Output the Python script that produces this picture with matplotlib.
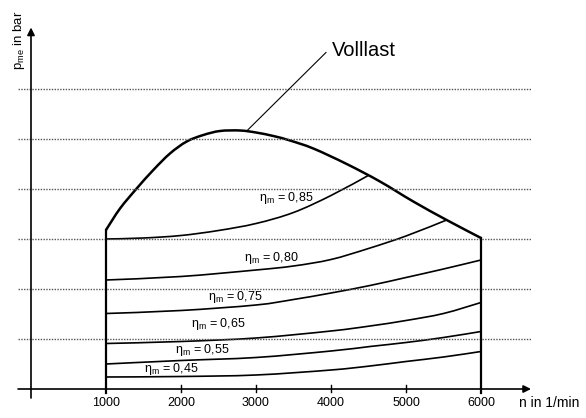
import matplotlib
matplotlib.use('Agg')
import matplotlib.pyplot as plt
from matplotlib.path import Path
from matplotlib.patches import PathPatch

plt.rcParams['font.family'] = ['Liberation Sans', 'DejaVu Sans']
plt.rcParams['mathtext.fontset'] = 'custom'
plt.rcParams['mathtext.rm'] = 'Liberation Sans'
plt.rcParams['mathtext.it'] = 'Liberation Sans'
plt.rcParams['mathtext.default'] = 'regular'

# Volllast (full load) curve, n in 1/min, p_me in grid units
full_n = [1000, 1187, 1409, 1631, 1853, 2076, 2298, 2520, 2787, 3000,
          3231, 3453, 3764, 4209, 4653, 5097, 5542, 6000]
full_p = [3.18, 3.61, 4.01, 4.38, 4.71, 4.95, 5.08, 5.16, 5.17, 5.13,
          5.06, 4.97, 4.81, 4.50, 4.15, 3.75, 3.38, 3.02]

# efficiency lines eta_m
eta_labels = ['0,85', '0,80', '0,75', '0,65', '0,55', '0,45']
eta_n = [
    [1000, 1500, 2000, 2500, 3000, 3500, 4000, 4497],
    [1000, 2000, 3000, 3500, 4000, 4500, 5000, 5542],
    [1000, 2000, 3000, 3500, 4000, 4520, 5000, 5500, 6000],
    [1000, 2000, 3000, 4000, 4520, 5000, 5500, 6000],
    [1000, 2000, 3000, 4000, 4520, 5000, 5500, 6000],
    [1000, 2000, 3000, 4000, 4520, 5000, 5500, 6000],
]
eta_p = [
    [3.00, 3.02, 3.07, 3.17, 3.31, 3.53, 3.87, 4.27],
    [2.18, 2.25, 2.38, 2.46, 2.59, 2.81, 3.06, 3.38],
    [1.51, 1.57, 1.68, 1.79, 1.92, 2.07, 2.23, 2.40, 2.58],
    [0.91, 0.95, 1.02, 1.16, 1.26, 1.37, 1.51, 1.73],
    [0.50, 0.57, 0.63, 0.76, 0.85, 0.93, 1.03, 1.15],
    [0.24, 0.25, 0.28, 0.38, 0.46, 0.55, 0.64, 0.75],
]
# label positions (centre)
lab_n = [3400, 3200, 2720, 2500, 2280, 1867]
lab_p = [3.82, 2.62, 1.84, 1.30, 0.78, 0.40]

ticks = [1000, 2000, 3000, 4000, 5000, 6000]
grid_p = [1, 2, 3, 4, 5, 6]


def smooth_curve(ax, xs, ys, **kw):
    # draw a smooth bezier path through the read points (catmull-rom style)
    pts = [ax.transData.transform((x, y)) for x, y in zip(xs, ys)]
    verts = [pts[0]]
    codes = [Path.MOVETO]
    for i in range(len(pts) - 1):
        p0 = pts[i - 1] if i > 0 else pts[i]
        p1 = pts[i]
        p2 = pts[i + 1]
        p3 = pts[i + 2] if i + 2 < len(pts) else pts[i + 1]
        c1 = p1 + (p2 - p0) / 6.0
        c2 = p2 - (p3 - p1) / 6.0
        verts += [c1, c2, p2]
        codes += [Path.CURVE4] * 3
    inv = ax.transData.inverted()
    verts = [inv.transform(v) for v in verts]
    ax.add_patch(PathPatch(Path(verts, codes), fill=False, **kw))


fig = plt.figure(figsize=(5.86, 4.18), dpi=100)
ax = fig.add_axes([0, 0, 1, 1])
ax.set_xlim(-413.3, 7400)
ax.set_ylim(-0.58, 7.78)
ax.axis('off')

# dotted grid lines
for g in grid_p:
    ax.plot([-173, 6667], [g, g], color='#555555', lw=1.0, ls=(0, (1, 1)))

# axes with arrows
arr = dict(arrowstyle='-|>', mutation_scale=11, lw=1.2, color='black',
           shrinkA=0, shrinkB=0)
ax.annotate('', xy=(6667, 0), xytext=(-173, 0), arrowprops=arr)
ax.annotate('', xy=(0, 7.23), xytext=(0, -0.18), arrowprops=arr)

# ticks
for t in ticks[1:-1]:
    ax.plot([t, t], [-0.06, 0.08], color='black', lw=1.0)
for t in ticks:
    ax.text(t, -0.28, str(t), ha='center', va='center', fontsize=9)

# verticals at 1000 and 6000
ax.plot([1000, 1000], [-0.08, full_p[0]], color='black', lw=1.6)
ax.plot([6000, 6000], [-0.08, full_p[-1]], color='black', lw=1.6)

# full load curve
smooth_curve(ax, full_n, full_p, color='black', lw=1.8, joinstyle='round')

# efficiency curves
for n, p, lab, ln, lp in zip(eta_n, eta_p, eta_labels, lab_n, lab_p):
    smooth_curve(ax, n, p, color='black', lw=1.2)
    ax.text(ln, lp, r'$\eta_m$ = ' + lab, ha='center', va='center', fontsize=9)

# Volllast annotation
ax.plot([2876, 3933], [5.16, 6.73], color='black', lw=0.8)
ax.text(4009, 6.76, 'Volllast', ha='left', va='center', fontsize=14.5)

ax.text(-160, 6.98, r'p$_{me}$ in bar', rotation=90, ha='center', va='center',
        fontsize=9.5)
ax.text(6507, -0.28, 'n in 1/min', ha='left', va='center', fontsize=10)

fig.savefig('out.png', dpi=100)
